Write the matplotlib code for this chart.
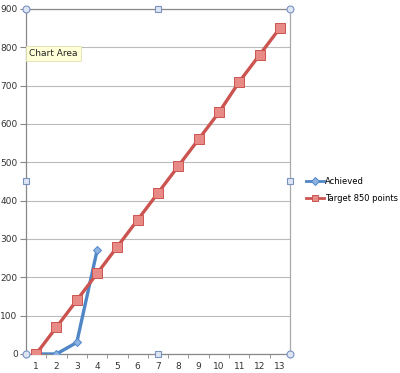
import matplotlib
matplotlib.use("Agg")
import matplotlib.pyplot as plt
import numpy as np

# data ------------------------------
categories = [str(i) for i in range(1, 14)]
achieved = [0, 0, 30, 270]
target = [0, 70, 140, 210, 280, 350, 420, 490, 560, 630, 710, 780, 850]
y_ticks = list(range(0, 901, 100))

blue = "#4F86C6"
red = "#CC5450"

fig = plt.figure(figsize=(4, 3.73), dpi=100)
ax = fig.add_axes([0.065, 0.051, 0.66, 0.925])

x_ach = np.arange(len(achieved))
x_tgt = np.arange(len(target))

ax.plot(x_ach, achieved, color=blue, lw=2.4, marker="D", ms=4.5,
        mfc="#8DB3E2", mec=blue, mew=0.7, label="Achieved", zorder=3)
ax.plot(x_tgt, target, color=red, lw=2.4, marker="s", ms=6.5,
        mfc="#E88A86", mec=red, mew=0.7, label="Target 850 points", zorder=3)

ax.set_xlim(-0.5, len(categories) - 0.5)
ax.set_ylim(0, 900)
ax.set_xticks(x_tgt)
ax.set_xticklabels(categories)
ax.set_xticks(np.arange(-0.5, len(categories), 1), minor=True)
ax.set_yticks(y_ticks)
ax.yaxis.grid(True, color="#BBBBBB", lw=0.8)
ax.set_axisbelow(True)

ax.tick_params(axis="x", which="major", length=0, pad=6, labelsize=6.5, colors="#333333")
ax.tick_params(axis="x", which="minor", length=3, color="#888888")
ax.tick_params(axis="y", length=4, color="#888888", labelsize=6.5, labelcolor="#333333", pad=2)
for side in ["left", "bottom", "right", "top"]:
    ax.spines[side].set_color("#888888")
    ax.spines[side].set_linewidth(0.9)
ax.spines["right"].set_color("#AAAAAA")

leg = fig.legend(loc="center left", bbox_to_anchor=(0.765, 0.49), frameon=False,
                 fontsize=6, handlelength=2.2, handletextpad=0.05, labelspacing=1.0,
                 borderaxespad=0, borderpad=0)
for h in leg.legend_handles:
    h.set_linewidth(2.0)
    h.set_markersize(4)

# selection handles of the chart area
for hx, hy, shape in [(0, 1, "o"), (0.5, 1, "s"), (1, 1, "o"),
                      (0, 0.5, "s"), (1, 0.5, "s"),
                      (0, 0, "o"), (0.5, 0, "s"), (1, 0, "o")]:
    ax.plot(hx, hy, marker=shape, ms=5 if shape == "o" else 4.5, mfc="#DDE6F5",
            mec="#7A92C0", mew=0.8, transform=ax.transAxes, clip_on=False, zorder=5)

# tooltip
fig.text(0.073, 0.857, "Chart Area", fontsize=6.5, color="#222222", va="center",
         bbox=dict(boxstyle="square,pad=0.35", fc="#FFFFD8", ec="#E0E0B0", lw=0.6),
         zorder=6)

fig.savefig("out.png", dpi=100)
